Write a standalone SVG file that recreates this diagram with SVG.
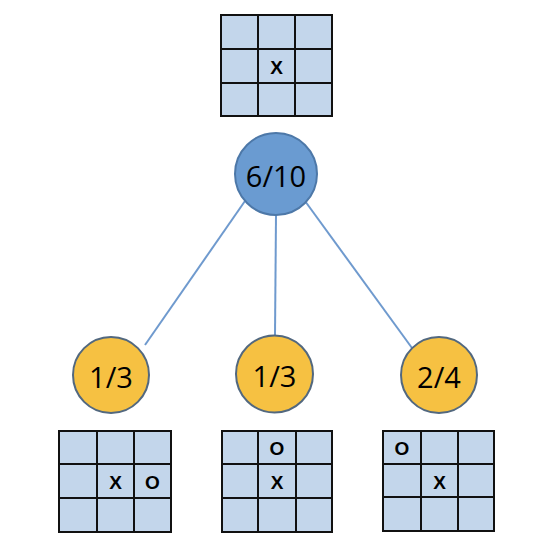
<svg xmlns="http://www.w3.org/2000/svg" width="546" height="548" viewBox="0 0 546 548">
<style>
.cell{fill:#c3d6eb;stroke:#111;stroke-width:2}
.g{stroke:#111;stroke-width:2;fill:none}
.mark{font-family:"Liberation Sans",Arial,sans-serif;font-weight:bold;font-size:19px;fill:#000;text-anchor:middle;dominant-baseline:central}
.lbl{font-family:"Open Sans","Noto Sans",sans-serif;font-size:29px;fill:#000;text-anchor:middle;dominant-baseline:central}
.edge{stroke:#6f9ace;stroke-width:2;fill:none}
.root{fill:#6a9bd1;stroke:#4d78a8;stroke-width:2}
.leaf{fill:#f6c142;stroke:#52687f;stroke-width:2}
</style>
<rect width="546" height="548" fill="#fff"/>
<g id="connectors">
<line class="edge" x1="245" y1="201" x2="145" y2="345"/>
<line class="edge" x1="276" y1="215" x2="275" y2="336"/>
<line class="edge" x1="305" y1="201" x2="412" y2="348"/>
</g>
<g id="board-root">
<rect class="cell" x="221" y="15" width="111" height="101"/>
<path class="g" d="M258 15V116M295 15V116M221 49H332M221 83H332"/>
<text class="mark" x="276.5" y="67">X</text>
</g>
<g id="node-root">
<circle class="root" cx="276" cy="174" r="41"/>
<text class="lbl" x="276" y="175" font-size="32">6/10</text>
</g>
<g id="node-left">
<circle class="leaf" cx="111" cy="375" r="38"/>
<text class="lbl" x="111" y="376">1/3</text>
</g>
<g id="node-mid">
<circle class="leaf" cx="274.5" cy="374" r="38.5"/>
<text class="lbl" x="274.5" y="375">1/3</text>
</g>
<g id="node-right">
<circle class="leaf" cx="439" cy="375" r="38"/>
<text class="lbl" x="439" y="376">2/4</text>
</g>
<g id="board-left">
<rect class="cell" x="59" y="431" width="112" height="101"/>
<path class="g" d="M97 431V532M134 431V532M59 464H171M59 498H171"/>
<text class="mark" x="115.5" y="482">X</text>
<text class="mark" x="152.5" y="482">O</text>
</g>
<g id="board-mid">
<rect class="cell" x="222" y="431" width="110" height="101"/>
<path class="g" d="M258 431V532M296 431V532M222 464H332M222 498H332"/>
<text class="mark" x="277" y="448">O</text>
<text class="mark" x="277" y="482">X</text>
</g>
<g id="board-right">
<rect class="cell" x="383" y="431" width="111" height="100"/>
<path class="g" d="M421 431V531M458 431V531M383 464H494M383 497H494"/>
<text class="mark" x="402" y="448">O</text>
<text class="mark" x="439.5" y="482">X</text>
</g>
</svg>
